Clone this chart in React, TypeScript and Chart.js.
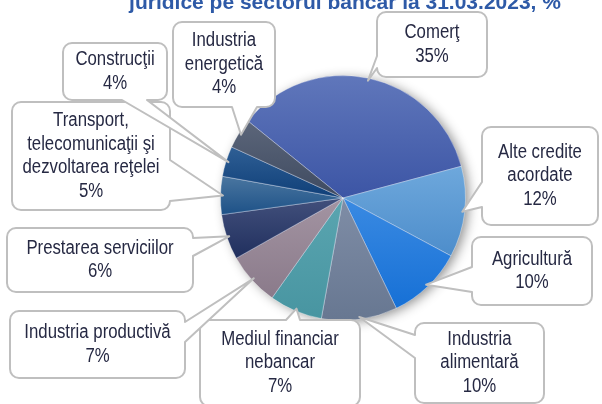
import React, { useEffect, useRef } from "react";
import { Chart, registerables } from "chart.js";

Chart.register(...registerables);

const titleText = "juridice pe sectorul bancar la 31.03.2023, %";

const categories: string[][] = [
  ["Comerţ"],
  ["Alte credite", "acordate"],
  ["Agricultură"],
  ["Industria", "alimentară"],
  ["Mediul financiar", "nebancar"],
  ["Industria productivă"],
  ["Prestarea serviciilor"],
  ["Transport,", "telecomunicaţii şi", "dezvoltarea reţelei"],
  ["Construcţii"],
  ["Industria", "energetică"],
];

const shares = [35, 12, 10, 10, 7, 7, 6, 5, 4, 4];

const colorsTop = [
  "#6077bb", "#6ea8dc", "#3a8ae2", "#7f8da6", "#5aa5b0",
  "#a394a2", "#42507c", "#4a76a0", "#2f5f95", "#5c667a",
];
const colorsBottom = [
  "#3c55a5", "#4d8dcb", "#1670d6", "#677791", "#4895a1",
  "#8a7a8a", "#202f5e", "#1d5187", "#0f3f78", "#3e4a60",
];

const ROTATION = -51;

// callout box layout (position of the box and the side where its pointer leaves)
type Side = "left" | "right" | "top" | "bottom";
const callouts: { x: number; y: number; w: number; h: number; side: Side; b1: number; b2: number }[] = [
  { x: 377, y: 12, w: 110, h: 65, side: "left", b1: 56, b2: 68 },
  { x: 482, y: 127, w: 116, h: 98, side: "left", b1: 182, b2: 207 },
  { x: 472, y: 237, w: 120, h: 68, side: "left", b1: 267, b2: 292 },
  { x: 415, y: 323, w: 129, h: 80, side: "left", b1: 335, b2: 358 },
  { x: 200, y: 320, w: 160, h: 86, side: "top", b1: 286, b2: 300 },
  { x: 10, y: 311, w: 175, h: 67, side: "right", b1: 322, b2: 342 },
  { x: 7, y: 228, w: 186, h: 64, side: "right", b1: 238, b2: 256 },
  { x: 12, y: 102, w: 158, h: 108, side: "right", b1: 160, b2: 201 },
  { x: 63, y: 43, w: 104, h: 57, side: "bottom", b1: 122, b2: 147 },
  { x: 173, y: 22, w: 102, h: 85, side: "bottom", b1: 232, b2: 257 },
];

const FONT_FAMILY = '"Liberation Sans", Arial, sans-serif';
const NARROW = 0.86;

function narrowText(ctx: CanvasRenderingContext2D, text: string, x: number, y: number, sx: number) {
  ctx.save();
  ctx.translate(x, y);
  ctx.scale(sx, 1);
  ctx.fillText(text, 0, 0);
  ctx.restore();
}

function calloutPath(
  ctx: CanvasRenderingContext2D,
  c: { x: number; y: number; w: number; h: number; side: Side; b1: number; b2: number },
  tx: number,
  ty: number
) {
  const { x, y, w, h, side } = c;
  const r = 9;
  const lo = Math.min(c.b1, c.b2);
  const hi = Math.max(c.b1, c.b2);
  ctx.beginPath();
  ctx.moveTo(x + r, y);
  if (side === "top") {
    ctx.lineTo(lo, y);
    ctx.lineTo(tx, ty);
    ctx.lineTo(hi, y);
  }
  ctx.lineTo(x + w - r, y);
  ctx.arcTo(x + w, y, x + w, y + r, r);
  if (side === "right") {
    ctx.lineTo(x + w, lo);
    ctx.lineTo(tx, ty);
    ctx.lineTo(x + w, hi);
  }
  ctx.lineTo(x + w, y + h - r);
  ctx.arcTo(x + w, y + h, x + w - r, y + h, r);
  if (side === "bottom") {
    ctx.lineTo(hi, y + h);
    ctx.lineTo(tx, ty);
    ctx.lineTo(lo, y + h);
  }
  ctx.lineTo(x + r, y + h);
  ctx.arcTo(x, y + h, x, y + h - r, r);
  if (side === "left") {
    ctx.lineTo(x, hi);
    ctx.lineTo(tx, ty);
    ctx.lineTo(x, lo);
  }
  ctx.lineTo(x, y + r);
  ctx.arcTo(x, y, x + r, y, r);
  ctx.closePath();
}

const shadowPlugin = {
  id: "pieShadow",
  beforeDatasetsDraw(chart: any) {
    const meta = chart.getDatasetMeta(0);
    const arc = meta.data[0];
    if (!arc) return;
    const { x, y, outerRadius } = arc.getProps(["x", "y", "outerRadius"], true);
    const ctx = chart.ctx as CanvasRenderingContext2D;
    ctx.save();
    ctx.shadowColor = "rgba(0,0,0,0.45)";
    ctx.shadowBlur = 12;
    ctx.shadowOffsetX = 4;
    ctx.shadowOffsetY = 2;
    ctx.fillStyle = "#4a62b0";
    ctx.beginPath();
    ctx.arc(x, y, outerRadius - 1, 0, Math.PI * 2);
    ctx.fill();
    ctx.restore();
  },
};

const calloutPlugin = {
  id: "callouts",
  afterDraw(chart: any) {
    const ctx = chart.ctx as CanvasRenderingContext2D;
    const meta = chart.getDatasetMeta(0);
    ctx.save();
    // title (second line, partially cut at the top)
    ctx.font = `bold 21px ${FONT_FAMILY}`;
    ctx.fillStyle = "#2e5aa7";
    ctx.textAlign = "center";
    ctx.textBaseline = "alphabetic";
    ctx.fillText(titleText, 345, 9);

    meta.data.forEach((el: any, i: number) => {
      const c = callouts[i];
      if (!c) return;
      const p = el.getProps(["x", "y", "startAngle", "endAngle", "outerRadius"], true);
      const mid = (p.startAngle + p.endAngle) / 2;
      const tr = p.outerRadius * 0.98;
      const tx = p.x + Math.cos(mid) * tr;
      const ty = p.y + Math.sin(mid) * tr;
      calloutPath(ctx, c, tx, ty);
      ctx.fillStyle = "#ffffff";
      ctx.fill();
      ctx.lineWidth = 2;
      ctx.strokeStyle = "#bfbfbf";
      ctx.lineJoin = "round";
      ctx.stroke();

      const lines = [...categories[i], `${shares[i]}%`];
      const lh = 23.5;
      const cy = c.y + c.h / 2;
      const cx = c.x + c.w / 2;
      ctx.font = `19.5px ${FONT_FAMILY}`;
      ctx.fillStyle = "#262943";
      ctx.textAlign = "center";
      ctx.textBaseline = "middle";
      lines.forEach((ln, k) => {
        const yy = cy + (k - (lines.length - 1) / 2) * lh;
        narrowText(ctx, ln, cx, yy, NARROW);
      });
    });
    ctx.restore();
  },
};

function sliceGradient(context: any) {
  const chart = context.chart;
  const area = chart.chartArea;
  const i = context.dataIndex;
  if (!area || i === undefined) return colorsTop[i ?? 0];
  const cx = (area.left + area.right) / 2;
  const cy = (area.top + area.bottom) / 2;
  const r = Math.min(area.right - area.left, area.bottom - area.top) / 2;
  const total = shares.reduce((a, b) => a + b, 0);
  let acc = 0;
  for (let j = 0; j < i; j++) acc += shares[j];
  const a0 = ((ROTATION - 90) * Math.PI) / 180 + (acc / total) * Math.PI * 2;
  const a1 = a0 + (shares[i] / total) * Math.PI * 2;
  const ys = [cy, cy + r * Math.sin(a0), cy + r * Math.sin(a1)];
  for (let k = -3; k <= 3; k++) {
    const bottom = Math.PI / 2 + k * 2 * Math.PI;
    const top = -Math.PI / 2 + k * 2 * Math.PI;
    if (bottom >= a0 && bottom <= a1) ys.push(cy + r);
    if (top >= a0 && top <= a1) ys.push(cy - r);
  }
  const minY = Math.min(...ys);
  const maxY = Math.max(...ys);
  const g = chart.ctx.createLinearGradient(0, minY, 0, maxY + 0.01);
  g.addColorStop(0, colorsTop[i]);
  g.addColorStop(1, colorsBottom[i]);
  return g;
}

export default function App() {
  const ref = useRef<HTMLCanvasElement | null>(null);

  useEffect(() => {
    if (!ref.current) return;
    const chart = new Chart(ref.current, {
      type: "pie",
      data: {
        labels: categories.map((c) => c.join(" ")),
        datasets: [
          {
            data: shares,
            backgroundColor: sliceGradient as any,
            borderColor: "rgba(255,255,255,0.35)",
            borderWidth: 1,
          },
        ],
      },
      options: {
        responsive: false,
        animation: false,
        rotation: ROTATION,
        layout: { padding: { top: 75, bottom: 83, left: 220, right: 136 } },
        plugins: {
          legend: { display: false },
          title: { display: false },
          tooltip: { enabled: false },
        },
        events: [],
      },
      plugins: [shadowPlugin, calloutPlugin],
    });
    return () => chart.destroy();
  }, []);

  return (
    <div style={{ position: "fixed", left: 0, top: 0, width: 602, height: 404, background: "#ffffff" }}>
      <canvas ref={ref} width={602} height={404} style={{ display: "block" }} />
    </div>
  );
}
